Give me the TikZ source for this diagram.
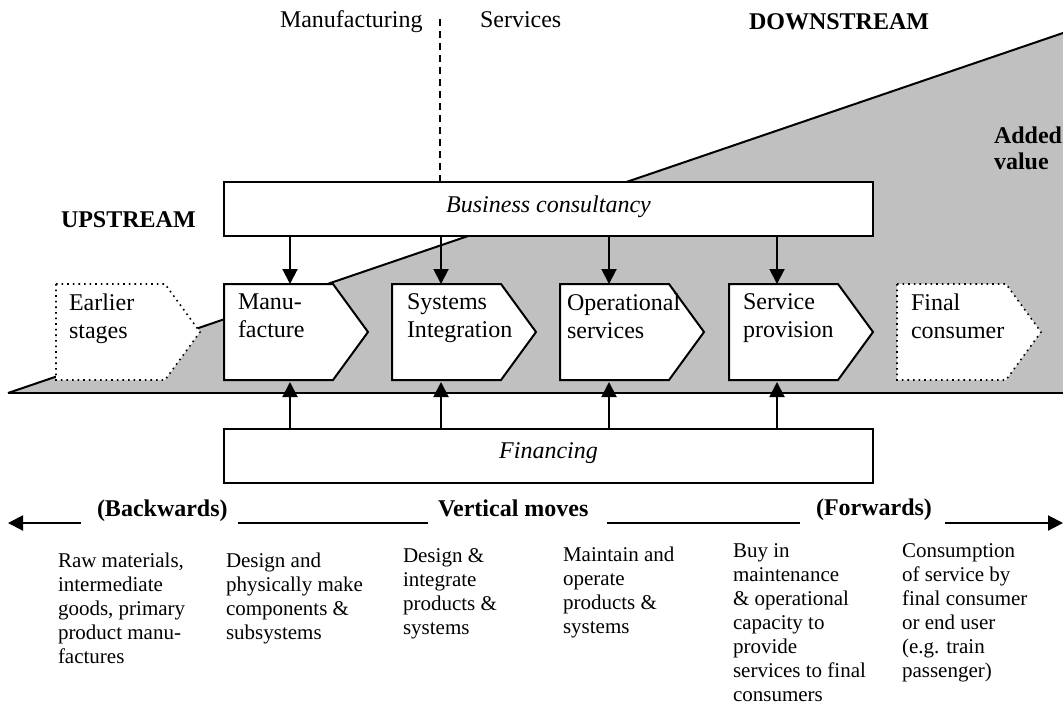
\documentclass[tikz,border=0pt]{standalone}
\usepackage{fontspec}
\setmainfont{Liberation Serif}
\usetikzlibrary{arrows.meta}
\usetikzlibrary{positioning}
\definecolor{valuegrey}{RGB}{192,192,192}
\newcommand{\stage}[5]{\draw[#5] (#2,284) -- ++(109,0) -- ++(35,48) -- ++(-35,48) -- ++(-109,0) -- cycle;
					\node[stagebody] (#1) at (#2,284) {};
					\node[stagetext] at ([shift={(#3,9)}]#1.north west) {#4};}

\begin{document}
\begin{tikzpicture}[x=0.5pt, y=-0.5pt, line width=1pt,
					flow/.style={-{Triangle[length=7.5pt,width=7.5pt]}},
					bigbox/.style={draw, fill=white, minimum width=324.5pt, minimum height=27pt, text height=8pt, text depth=5pt, font=\fontsize{12}{14}\selectfont\itshape},
					mainstage/.style={draw, fill=white},
					sidestage/.style={draw, fill=white, dotted, line width=0.8pt},
					stagebody/.style={minimum width=72pt, minimum height=48pt, inner sep=0pt, anchor=north west},
					stagetext/.style={anchor=north west, align=left, inner sep=0pt, font=\fontsize{12}{14}\selectfont},
					toplabel/.style={anchor=base west, inner sep=0pt, font=\fontsize{12}{14}\selectfont},
					heading/.style={toplabel, font=\fontsize{12}{13}\selectfont\bfseries},
					note/.style={anchor=north west, align=left, inner sep=0pt, font=\fontsize{10.5}{12}\selectfont}]

					\useasboundingbox (0,0) rectangle (1063,708);

					\fill[valuegrey] (8,393) -- (1063,33) -- (1063,393) -- cycle;
					\draw (8,393) -- (1063,33);
					\draw (8,393) -- (1063,393);

					\node[bigbox] (consult) at (548.5,209) {Business consultancy};
					\node[bigbox] (finance) at (548.5,455.5) {Financing};

					\stage{earlier}{56}{12}{Earlier\\stages}{sidestage}
					\stage{manu}{224}{13}{Manu-\\facture}{mainstage}
					\stage{sysint}{392}{14}{Systems\\Integration}{mainstage}
					\stage{opserv}{560}{6}{Operational\\services}{mainstage}
					\stage{servprov}{729}{13}{Service\\provision}{mainstage}
					\stage{final}{897}{13}{Final\\consumer}{sidestage}

					\foreach \n/\ax in {manu/290, sysint/441, opserv/609, servprov/777}{
						\coordinate (ax) at (\ax,0);
						\draw[flow] (consult.south -| ax) -- (\n.north -| ax);
						\draw[flow] (finance.north -| ax) -- (\n.south -| ax);
					}

					\coordinate (divtop) at (440,19);
					\draw[dashed, dash pattern=on 3.5pt off 2.5pt] (divtop) -- (divtop |- consult.north);

					\node[toplabel] (manufacturing) at (279,27) {Manufacturing};
					\node[toplabel] (services) at (479,27) {Services};
					\node[heading] (downstream) at (748,29) {DOWNSTREAM};
					\node[heading] (upstream) at (60,227) {UPSTREAM};
					\node[heading, anchor=north west, align=left] (added) at (993,126) {Added\\value};

					\node[heading] (back) at (96,516) {(Backwards)};
					\node[heading] (vert) at (437,516) {Vertical moves};
					\node[heading] (fwd) at (815,515) {(Forwards)};
					\coordinate (westend) at (8,523);
					\coordinate (eastend) at (1063,523);
					\draw[flow] ([xshift=-7.5pt]back.west |- westend) -- (westend);
					\draw ([xshift=4.5pt]back.east |- westend) -- ([xshift=-4.5pt]vert.west |- westend);
					\draw ([xshift=9pt]vert.east |- westend) -- ([xshift=-7.5pt]fwd.west |- westend);
					\draw[flow] ([xshift=6pt]fwd.east |- westend) -- (eastend);

					\node[note] (rawtext) at (57,552) {Raw materials,\\intermediate\\goods, primary\\product manu-\\factures};
					\node[note] (designtext) at (225,552) {Design and\\physically make\\components \&\\subsystems};
					\node[note] (integtext) at (402,548) {Design \&\\integrate\\products \&\\systems};
					\node[note] (operatetext) at (562,546) {Maintain and\\operate\\products \&\\systems};
					\node[note] (buytext) at (732,543) {Buy in\\maintenance\\\& operational\\capacity to\\provide\\services to final\\consumers};
					\node[note] (consumetext) at (901,543) {Consumption\\of service by\\final consumer\\or end user\\(e.g. train\\passenger)};

\end{tikzpicture}
\end{document}
